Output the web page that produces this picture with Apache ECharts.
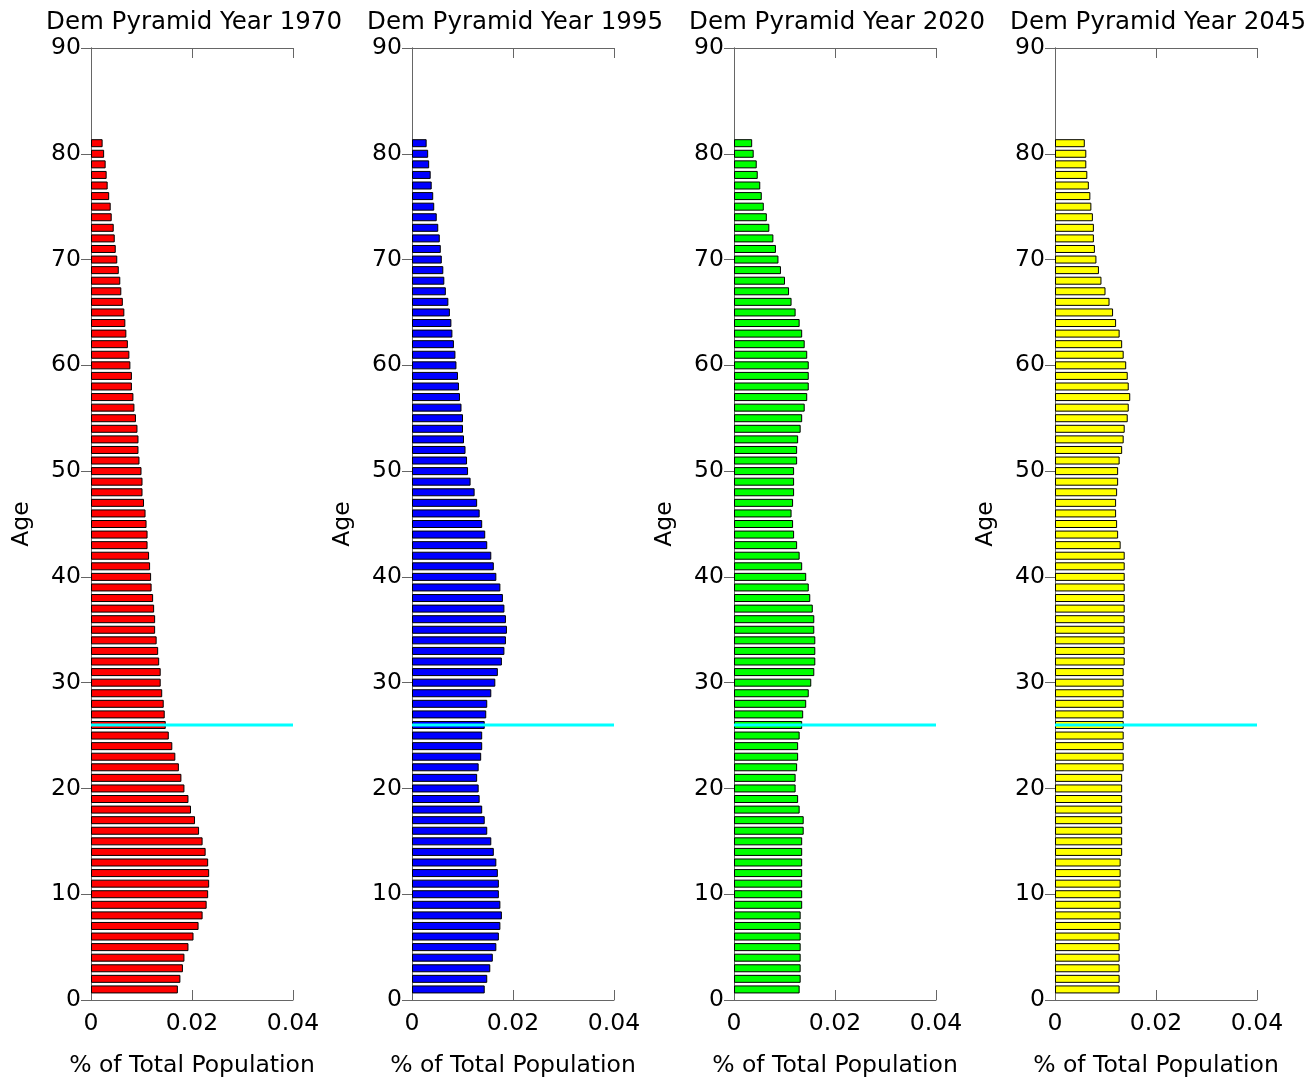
<!DOCTYPE html>
<html>
<head>
<meta charset="utf-8">
<title>Dem Pyramid</title>
<script src="https://cdn.jsdelivr.net/npm/echarts@6.0.0/dist/echarts.min.js"></script>
<style>
  html, body { margin: 0; padding: 0; background: #fff; }
  #main { width: 1305px; height: 1080px; }
</style>
</head>
<body>
<div id="main"></div>
<script>
// data
var years = ['1970', '1995', '2020', '2045'];
var ages = [1, 2, 3, 4, 5, 6, 7, 8, 9, 10, 11, 12, 13, 14, 15, 16, 17, 18, 19, 20,
  21, 22, 23, 24, 25, 26, 27, 28, 29, 30, 31, 32, 33, 34, 35, 36, 37, 38, 39, 40,
  41, 42, 43, 44, 45, 46, 47, 48, 49, 50, 51, 52, 53, 54, 55, 56, 57, 58, 59, 60,
  61, 62, 63, 64, 65, 66, 67, 68, 69, 70, 71, 72, 73, 74, 75, 76, 77, 78, 79, 80, 81];

var pop1970 = [0.0172, 0.0177, 0.0182, 0.0185, 0.0193, 0.0203, 0.0213, 0.0221, 0.0229, 0.0232,
  0.0234, 0.0234, 0.0232, 0.0227, 0.0221, 0.0214, 0.0206, 0.0198, 0.0193, 0.0185,
  0.0179, 0.0174, 0.0167, 0.0161, 0.0154, 0.0148, 0.0146, 0.0144, 0.0141, 0.0138,
  0.0138, 0.0135, 0.0133, 0.0130, 0.0127, 0.0127, 0.0125, 0.0123, 0.0120, 0.0119,
  0.0117, 0.0115, 0.0112, 0.0112, 0.0110, 0.0108, 0.0105, 0.0102, 0.0102, 0.0100,
  0.0096, 0.0094, 0.0094, 0.0092, 0.0089, 0.0086, 0.0084, 0.0081, 0.0081, 0.0078,
  0.0076, 0.0073, 0.0070, 0.0068, 0.0066, 0.0063, 0.0060, 0.0058, 0.0055, 0.0052,
  0.0049, 0.0047, 0.0045, 0.0041, 0.0039, 0.0036, 0.0033, 0.0031, 0.0029, 0.0026, 0.0023];

var pop1995 = [0.0144, 0.0149, 0.0155, 0.0160, 0.0167, 0.0172, 0.0175, 0.0178, 0.0175, 0.0172,
  0.0172, 0.0170, 0.0167, 0.0162, 0.0157, 0.0149, 0.0144, 0.0139, 0.0134, 0.0132,
  0.0129, 0.0132, 0.0137, 0.0139, 0.0139, 0.0144, 0.0147, 0.0149, 0.0157, 0.0165,
  0.0170, 0.0178, 0.0183, 0.0186, 0.0188, 0.0186, 0.0183, 0.0180, 0.0175, 0.0167,
  0.0162, 0.0157, 0.0149, 0.0145, 0.0139, 0.0134, 0.0129, 0.0124, 0.0116, 0.0111,
  0.0109, 0.0106, 0.0103, 0.0101, 0.0101, 0.0098, 0.0095, 0.0093, 0.0091, 0.0088,
  0.0086, 0.0083, 0.0080, 0.0078, 0.0075, 0.0072, 0.0067, 0.0064, 0.0062, 0.0059,
  0.0057, 0.0055, 0.0052, 0.0049, 0.0044, 0.0042, 0.0039, 0.0037, 0.0034, 0.0032, 0.0029];

var pop2020 = [0.0130, 0.0132, 0.0132, 0.0132, 0.0132, 0.0132, 0.0132, 0.0132, 0.0135, 0.0135,
  0.0135, 0.0135, 0.0135, 0.0135, 0.0135, 0.0138, 0.0138, 0.0130, 0.0127, 0.0122,
  0.0122, 0.0125, 0.0127, 0.0127, 0.0130, 0.0135, 0.0137, 0.0143, 0.0148, 0.0153,
  0.0159, 0.0161, 0.0161, 0.0161, 0.0159, 0.0159, 0.0156, 0.0151, 0.0148, 0.0143,
  0.0135, 0.0130, 0.0125, 0.0119, 0.0117, 0.0114, 0.0117, 0.0119, 0.0119, 0.0119,
  0.0125, 0.0125, 0.0127, 0.0132, 0.0135, 0.0140, 0.0145, 0.0148, 0.0148, 0.0148,
  0.0145, 0.0140, 0.0135, 0.0130, 0.0122, 0.0114, 0.0109, 0.0101, 0.0093, 0.0088,
  0.0083, 0.0078, 0.0070, 0.0065, 0.0059, 0.0055, 0.0052, 0.0047, 0.0045, 0.0039, 0.0036];

var pop2045 = [0.0128, 0.0128, 0.0128, 0.0128, 0.0128, 0.0128, 0.0130, 0.0130, 0.0130, 0.0130,
  0.0130, 0.0130, 0.0130, 0.0133, 0.0133, 0.0133, 0.0133, 0.0133, 0.0133, 0.0133,
  0.0133, 0.0136, 0.0136, 0.0136, 0.0136, 0.0136, 0.0136, 0.0136, 0.0136, 0.0136,
  0.0136, 0.0138, 0.0138, 0.0138, 0.0138, 0.0138, 0.0138, 0.0138, 0.0138, 0.0138,
  0.0138, 0.0138, 0.0130, 0.0125, 0.0123, 0.0121, 0.0121, 0.0123, 0.0125, 0.0125,
  0.0128, 0.0133, 0.0136, 0.0138, 0.0144, 0.0146, 0.0149, 0.0146, 0.0144, 0.0141,
  0.0136, 0.0133, 0.0128, 0.0121, 0.0115, 0.0108, 0.0100, 0.0092, 0.0087, 0.0082,
  0.0079, 0.0077, 0.0077, 0.0075, 0.0072, 0.0070, 0.0067, 0.0064, 0.0062, 0.0062, 0.0059];

var series = [pop1970, pop1995, pop2020, pop2045];
var colors = ['#ff0000', '#0000ff', '#00ff00', '#ffff00'];
var markAge = 26;

// age axis 0..90
var ageAxis = [];
for (var a = 0; a <= 90; a++) ageAxis.push(String(a));

var font = 'DejaVu Sans';
var frame = '#666';
var lefts = [91, 412, 734, 1055];
var plotW = 202;

var option = {
  animation: false,
  backgroundColor: '#fff',
  textStyle: { fontFamily: font },
  title: [],
  grid: [],
  xAxis: [],
  yAxis: [],
  series: []
};

for (var i = 0; i < 4; i++) {
  option.title.push({
    text: 'Dem Pyramid Year ' + years[i],
    left: lefts[i] + plotW / 2 - 3,
    top: 5,
    textAlign: 'center',
    textStyle: { fontFamily: font, fontSize: 24.5, fontWeight: 'normal', color: '#000' }
  });
  option.grid.push({
    left: lefts[i], top: 48, width: plotW, height: 952,
    containLabel: false, outerBoundsMode: 'none'
  });
  // bottom x
  option.xAxis.push({
    type: 'value', gridIndex: i, min: 0, max: 0.04, interval: 0.02,
    position: 'bottom',
    name: '% of Total Population', nameLocation: 'middle', nameGap: 54,
    nameTextStyle: { fontFamily: font, fontSize: 23.5, color: '#000' },
    axisLine: { show: true, lineStyle: { color: frame } },
    axisTick: { show: true, inside: true, length: 10, lineStyle: { color: frame } },
    axisLabel: { fontFamily: font, fontSize: 23.5, color: '#000', margin: 12 },
    splitLine: { show: false }
  });
  // top x (frame)
  option.xAxis.push({
    type: 'value', gridIndex: i, min: 0, max: 0.04, interval: 0.02,
    position: 'top',
    axisLine: { show: true, lineStyle: { color: frame } },
    axisTick: { show: true, inside: true, length: 10, lineStyle: { color: frame } },
    axisLabel: { show: false },
    splitLine: { show: false }
  });
  // left y
  option.yAxis.push({
    type: 'category', gridIndex: i, data: ageAxis, boundaryGap: false,
    position: 'left',
    name: 'Age', nameLocation: 'middle', nameGap: 57, nameRotate: 90,
    nameTextStyle: { fontFamily: font, fontSize: 23.5, color: '#000' },
    axisLine: { show: true, lineStyle: { color: frame } },
    axisTick: { show: true, inside: true, length: 10, interval: 9, lineStyle: { color: frame } },
    axisLabel: { fontFamily: font, fontSize: 23.5, color: '#000', margin: 10, interval: 9 },
    splitLine: { show: false }
  });
  // right y (frame)
  option.yAxis.push({
    type: 'category', gridIndex: i, data: ageAxis, boundaryGap: false,
    position: 'right',
    axisLine: { show: true, lineStyle: { color: frame } },
    axisTick: { show: true, inside: true, length: 10, interval: 9, lineStyle: { color: frame } },
    axisLabel: { show: false },
    splitLine: { show: false }
  });

  var vals = series[i];
  option.series.push({
    type: 'bar',
    xAxisIndex: 2 * i,
    yAxisIndex: 2 * i,
    barWidth: 8,
    data: ages.map(function (age, k) { return [vals[k], age]; }),
    itemStyle: { color: colors[i], borderColor: '#000', borderWidth: 1 },
    z: 2
  });
  option.series.push({
    type: 'line',
    xAxisIndex: 2 * i,
    yAxisIndex: 2 * i,
    data: [[0, markAge], [0.04, markAge]],
    symbol: 'none',
    lineStyle: { color: '#00ffff', width: 3 },
    z: 5
  });
}

var chart = echarts.init(document.getElementById('main'));
chart.setOption(option);
</script>
</body>
</html>
